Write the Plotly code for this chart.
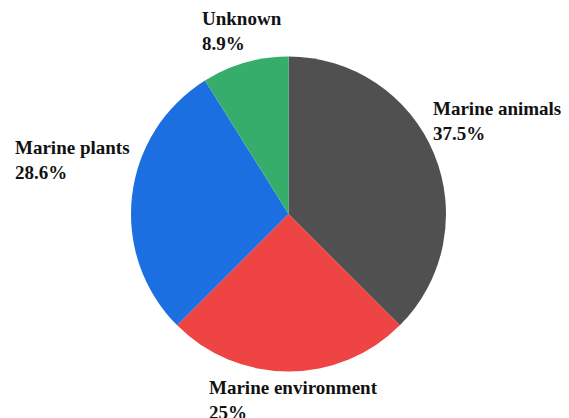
import plotly.graph_objects as go

labels = ["Marine animals", "Marine environment", "Marine plants", "Unknown"]
values = [37.5, 25.0, 28.6, 8.9]
colors = ["#505050", "#EF4444", "#1C6FE0", "#37AD6B"]

# label anchor positions (paper fraction, left/top anchored)
label_x = [431/569, 207/569, 13/569, 200/569]
label_y = [1 - 96/418, 1 - 375/418, 1 - 135/418, 1 - 6/418]

fig = go.Figure(go.Pie(
    labels=labels,
    values=values,
    marker=dict(colors=colors, line=dict(width=0)),
    sort=False,
    direction="clockwise",
    rotation=0,
    textinfo="none",
    hoverinfo="label+percent",
    domain=dict(x=[131/569, 446/569], y=[(418-372)/418, (418-56)/418]),
    showlegend=False,
))

total = sum(values)
for lab, v, x, y in zip(labels, values, label_x, label_y):
    pct = round(v / total * 100, 1)
    pct_s = (f"{pct:.1f}".rstrip("0").rstrip(".")) + "%"
    fig.add_annotation(
        x=x, y=y, xref="paper", yref="paper",
        xanchor="left", yanchor="top", align="left",
        text=f"<b>{lab}</b><br><b>{pct_s}</b>",
        showarrow=False,
        font=dict(family="Times New Roman, Liberation Serif, DejaVu Serif, serif", size=19, color="#111111"),
    )

fig.update_layout(
    width=569, height=418,
    margin=dict(l=0, r=0, t=0, b=0),
    paper_bgcolor="white",
    plot_bgcolor="white",
    font=dict(family="Times New Roman, Liberation Serif, DejaVu Serif, serif"),
)

fig.write_html("out.html")
